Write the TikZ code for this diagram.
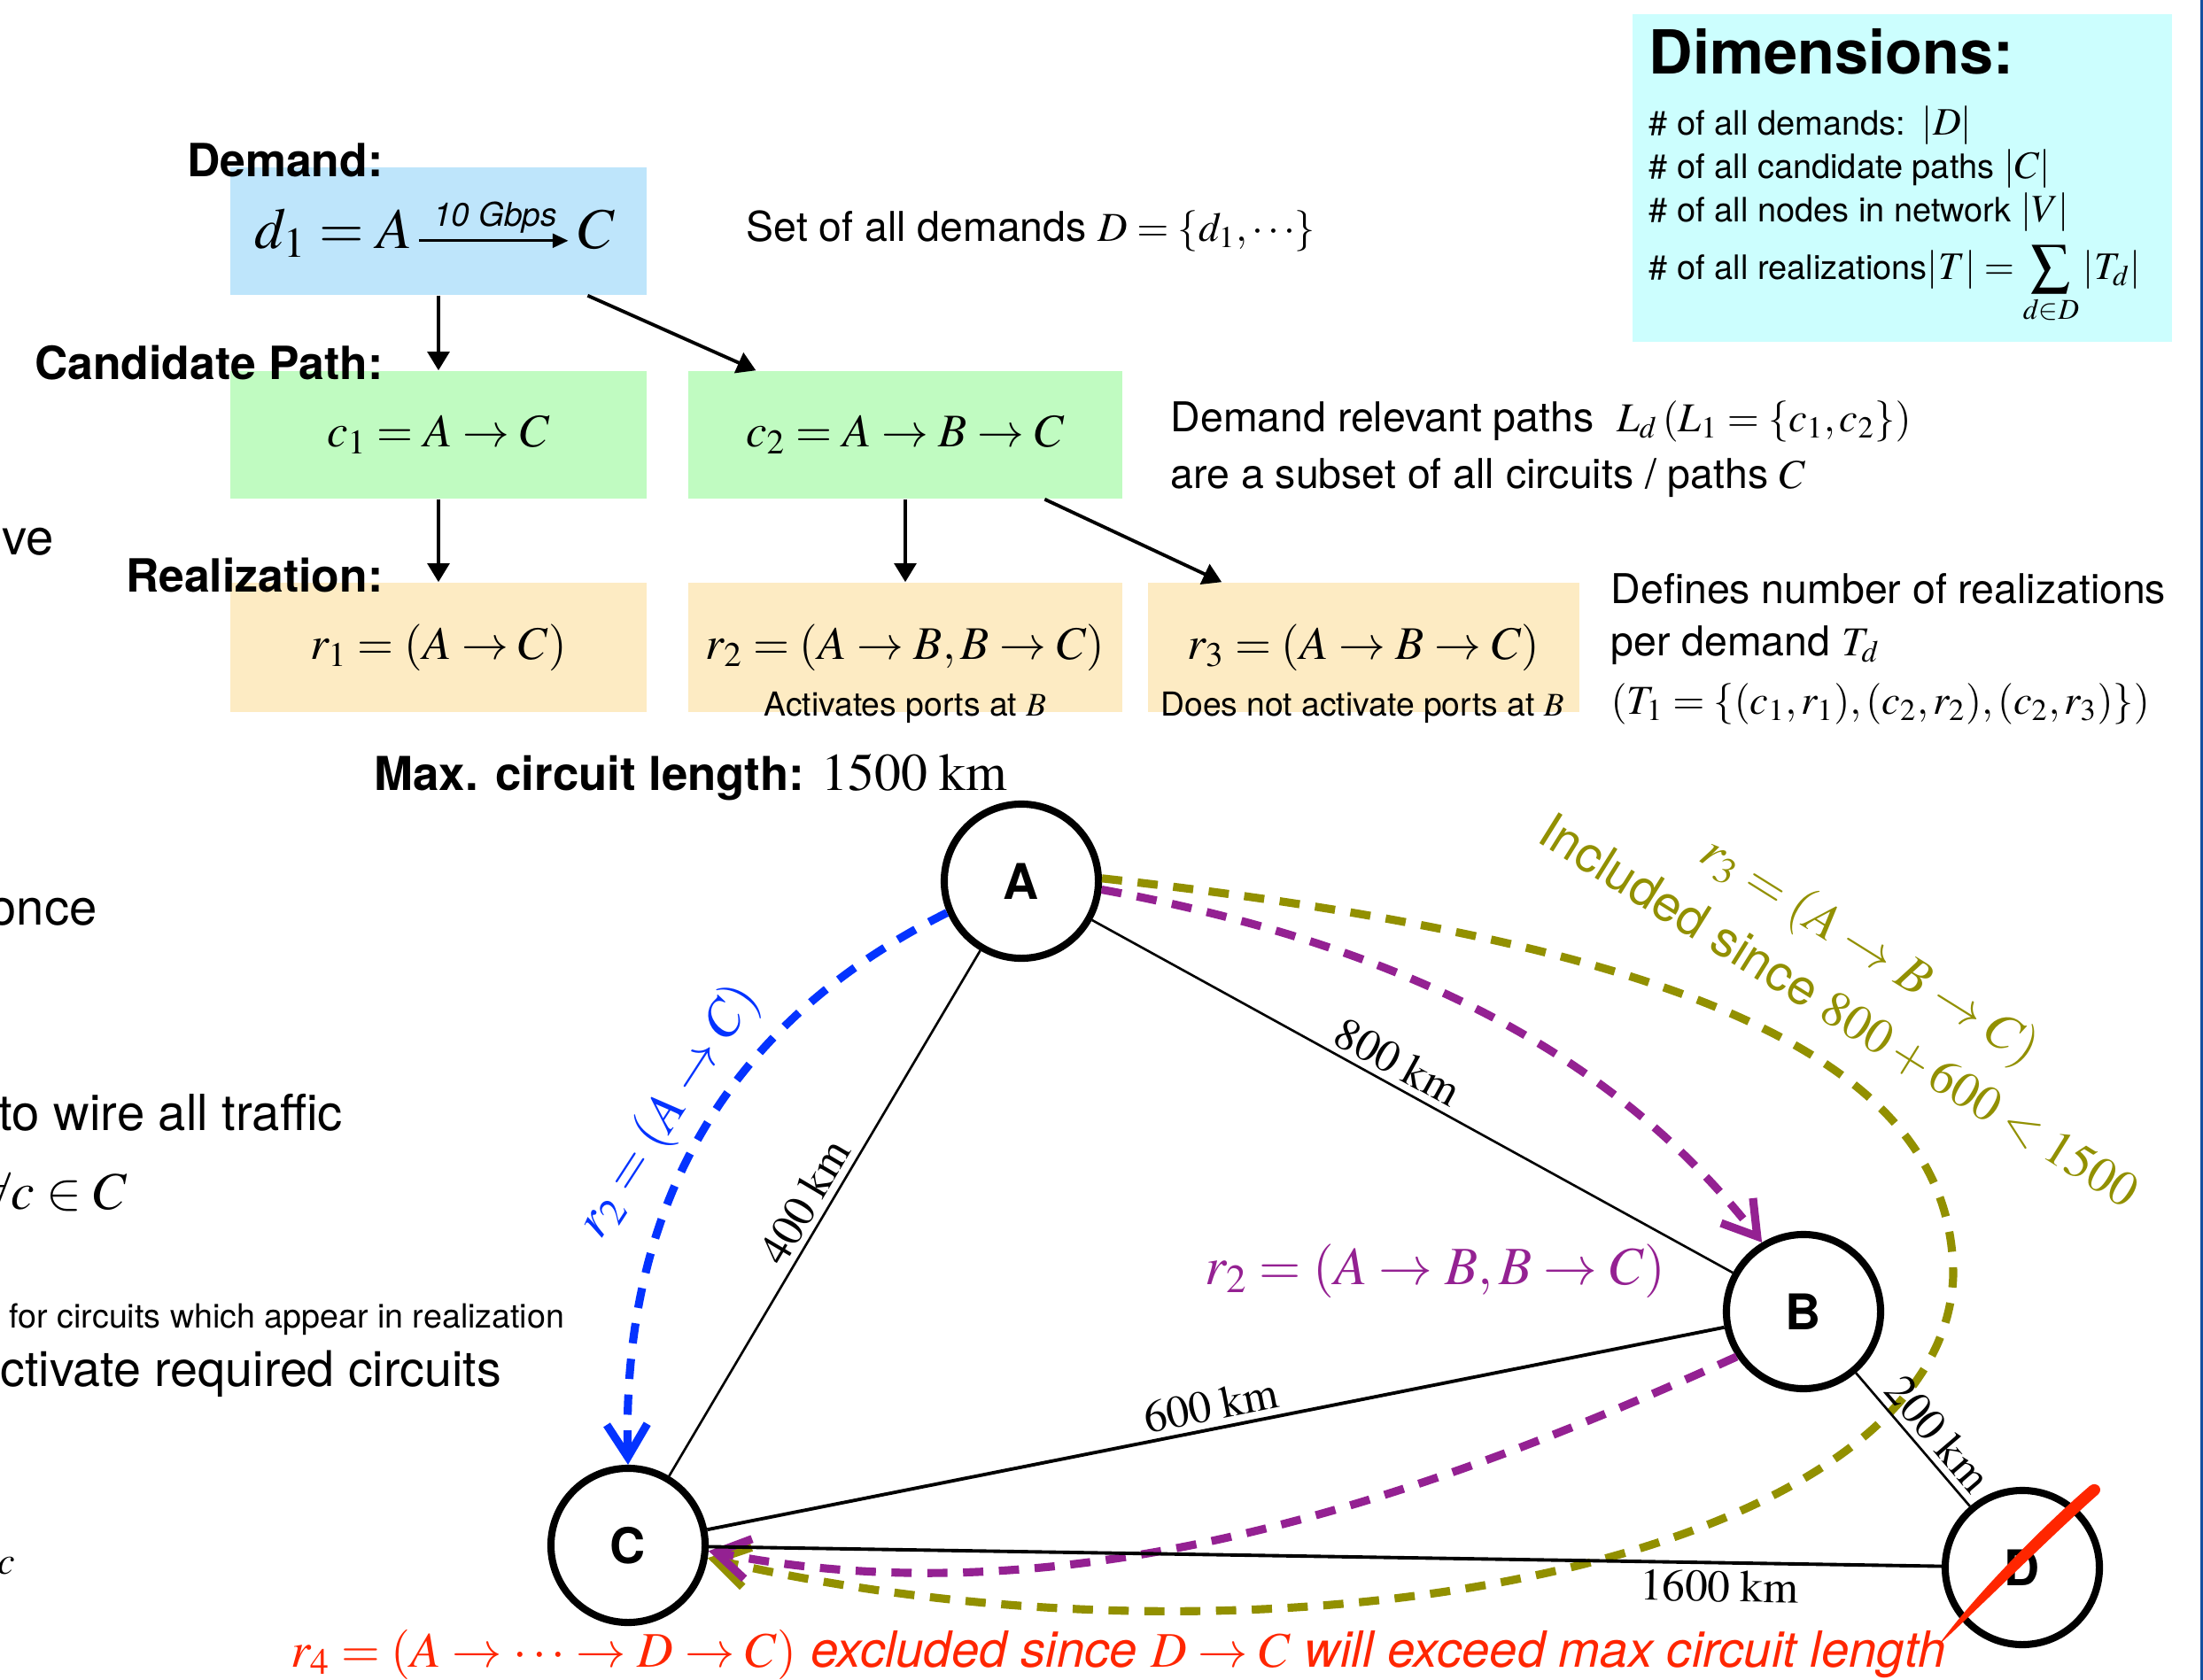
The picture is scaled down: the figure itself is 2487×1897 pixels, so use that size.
\documentclass[tikz,border=0pt]{standalone}
\usepackage{mathptmx}
\usepackage[no-math]{fontspec}
\setmainfont{TeX Gyre Heros}
\usetikzlibrary{arrows.meta,calc}
\newcommand\fsz[1]{\fontsize{#1}{#1}\selectfont}
\definecolor{demcol}{RGB}{190,229,251}
\definecolor{candcol}{RGB}{192,251,193}
\definecolor{realcol}{RGB}{253,235,195}
\definecolor{dimcol}{RGB}{204,254,254}
\definecolor{edgeline}{RGB}{20,80,160}
\definecolor{blueR}{RGB}{4,51,255}
\definecolor{plumR}{RGB}{148,33,146}
\definecolor{oliveR}{RGB}{146,144,0}
\definecolor{redR}{RGB}{255,38,0}
\tikzset{
  box/.style={rectangle, inner sep=0pt, font=\fsz{15}},
  hdr/.style={font=\fsz{14.7}\bfseries, inner sep=0pt, anchor=base east},
  body/.style={font=\fsz{13.2}, inner sep=0pt, anchor=base west},
  cut/.style={font=\fsz{16}, inner sep=0pt, anchor=base west},
  dimline/.style={font=\fsz{10.8}, inner sep=0pt, anchor=base west},
  vtx/.style={circle, draw, line width=2.3pt, minimum size=1.74cm, inner sep=0pt, fill=white, font=\fsz{15.8}\bfseries},
  link/.style={line width=0.75pt},
  linkb/.style={line width=1.1pt},
  flow/.style={-{Triangle[length=6pt,width=7pt]}, line width=1.1pt},
  route/.style={line width=2.6pt, dash pattern=on 6.5pt off 5pt, -{Straight Barb[length=10.5pt,width=13pt]}},
  km/.style={font=\fsz{14.5}, sloped, inner sep=2pt}
}
\begin{document}
\begin{tikzpicture}[x=0.01cm,y=-0.01cm]
\useasboundingbox (0,0) rectangle (2487,1897);
\clip (0,0) rectangle (2487,1897);
\fill[white] (0,0) rectangle (2487,1897);
\fill[edgeline] (2484,0) rectangle (2487,1897);

% ---------- dimensions box ----------
\node[box, fill=dimcol, minimum width=6.09cm, minimum height=3.70cm] (dims) at (2147.5,201) {};
\node[font=\fsz{19.5}\bfseries, inner sep=0pt, anchor=base west] (dimt) at (1861,84) {Dimensions:};
\node[dimline] (dim1) at (1861,153) {\# of all demands: {\fsz{12.5}$\,|D|$}};
\node[dimline] (dim2) at (1861,202) {\# of all candidate paths {\fsz{12.5}$|C|$}};
\node[dimline] (dim3) at (1861,251) {\# of all nodes in network {\fsz{12.5}$|V|$}};
\node[dimline] (dim4) at (1861,315) {\# of all realizations{\fsz{12.5}$|T| = \displaystyle\sum_{d\in D} |T_d|$}};

% ---------- boxes ----------
\node[box, fill=demcol, minimum width=4.70cm, minimum height=1.44cm] (dem) at (495,261) {};
\node[box, fill=candcol, minimum width=4.70cm, minimum height=1.44cm] (c1) at (495,491) {$c_1 = A \to C$};
\node[box, fill=candcol, minimum width=4.90cm, minimum height=1.44cm] (c2) at (1022,491) {$c_2 = A \to B \to C$};
\node[box, fill=realcol, minimum width=4.70cm, minimum height=1.46cm] (r1) at (495,731) {$r_1 = (A \to C)$};
\node[box, fill=realcol, minimum width=4.90cm, minimum height=1.46cm] (r2) at (1022,731) {$r_2 = (A \to B, B \to C)$};
\node[box, fill=realcol, minimum width=4.87cm, minimum height=1.46cm] (r3) at (1539.5,731) {$r_3 = (A \to B \to C)$};

% demand formula
\node[font=\fsz{18.5}, inner sep=0pt, anchor=base east] (dA) at (466,281) {$d_1 = A$};
\node[font=\fsz{18.5}, inner sep=0pt, anchor=base west] (dC) at (652,281) {$C$};
\draw[-{Triangle[length=5pt,width=4.5pt]}, line width=0.8pt, shorten <=2pt, shorten >=3pt]
  (dA.mid east) -- node[above, font=\fsz{10.5}\itshape, inner sep=2pt] (gbps) {10 Gbps} (dC.mid west);

% headers
\node[hdr] (hdem) at (433,200) {Demand:};
\node[hdr] (hcand) at (433,428) {Candidate Path:};
\node[hdr] (hreal) at (433,668) {Realization:};

% notes
\node[body] (setD) at (842,272) {Set of all demands $D = \{d_1, \cdots\}$};
\node[body] (rel1) at (1321,487) {Demand relevant paths\ \ $L_d\,(L_1 = \{c_1, c_2\})$};
\node[body] (rel2) at (1321,551) {are a subset of all circuits / paths $C$};
\node[body] (def1) at (1818,681) {Defines number of realizations};
\node[body] (def2) at (1818,740) {per demand $T_d$};
\node[body] (def3) at (1818,806) {$(T_1 = \{(c_1,r_1),(c_2,r_2),(c_2,r_3)\})$};
\node[font=\fsz{10.6}, inner sep=0pt, anchor=base] (act) at (1022,808) {Activates ports at $B$};
\node[font=\fsz{10.6}, inner sep=0pt, anchor=base] (nact) at (1538,808) {Does not activate ports at $B$};

% arrows
\draw[flow] (dem.south) -- (c1.north);
\draw[flow] ($(dem.south west)!0.857!(dem.south east)$) -- ($(c2.north west)!0.157!(c2.north east)$);
\draw[flow] (c1.south) -- (r1.north);
\draw[flow] (c2.south) -- (r2.north);
\draw[flow] ($(c2.south west)!0.82!(c2.south east)$) -- ($(r3.north west)!0.172!(r3.north east)$);

% max length
\node[inner sep=0pt, anchor=base west] (maxl) at (422,892) {\fsz{15}\bfseries Max. circuit length: \fsz{17}$1500\;\mathrm{km}$};

% left cut texts
\node[cut] (t1) at (2,626) {ve};
\node[cut] (t2) at (-13,1044) {once};
\node[cut] (t3) at (-2,1276) {to wire all traffic};
\node[font=\fsz{17}, inner sep=0pt, anchor=base west] (t4) at (-21,1365) {$\forall c \in C$};
\node[font=\fsz{10.7}, inner sep=0pt, anchor=base west] (t5) at (10,1499) {for circuits which appear in realization};
\node[font=\fsz{15.8}, inner sep=0pt, anchor=base west] (t6) at (0,1565) {ctivate required circuits};
\node[font=\fsz{12.5}, inner sep=0pt, anchor=base west] (t7) at (-3,1777) {$c$};

% ---------- network ----------
\node[vtx] (A) at (1153,995) {A};
\node[vtx] (B) at (2036,1481) {B};
\node[vtx] (C) at (709,1745) {C};
\node[vtx] (D) at (2283,1770) {D};

% dashed routes
\draw[route, blueR] (A.203) .. controls (880,1125) and (700,1300) .. (C.north);
\draw[route, plumR] (A.-6) .. controls (1600,1070) and (1830,1200) .. (B.121);
\draw[route, oliveR] (A.2) .. controls (1854,1060) and (2205,1180) .. (2205,1440)
  .. controls (2195,1760) and (1450,1910) .. (C.-9);
\draw[route, plumR] (B.214) .. controls (1590,1700) and (1200,1830) .. (C.-4);

% edges
\draw[link] (C) -- node[km, above, pos=0.5] (l400) {$400\;\mathrm{km}$} (A);
\draw[link] (A) -- node[km, above, pos=0.46] (l800) {$800\;\mathrm{km}$} (B);
\draw[linkb] (C) -- node[km, above, pos=0.5] (l600) {$600\;\mathrm{km}$} (B);
\draw[linkb] (C) -- node[km, below, pos=0.82] (l1600) {$1600\;\mathrm{km}$} (D);
\draw[link] (B) -- node[km, above, pos=0.57] (l200) {$200\;\mathrm{km}$} (D);

% route labels
\node[text=blueR, font=\fsz{17}, rotate=57, inner sep=0pt] (lb) at (755,1255) {$r_2 = (A \to C)$};
\node[text=plumR, font=\fsz{17.3}, inner sep=0pt, anchor=base] (lp) at (1620,1450) {$r_2 = (A \to B, B \to C)$};
\node[text=oliveR, font=\fsz{16.5}, rotate=-32, inner sep=0pt] (lo1) at (2110,1075) {$r_3 = (A \to B \to C)$};
\node[text=oliveR, font=\fsz{16}, rotate=-32, inner sep=0pt] (lo2) at (2076,1142) {Included since $800 + 600 < 1500$};

% excluded
\node[text=redR, font=\fsz{16}, inner sep=0pt, anchor=base west] (lr) at (328,1882)
  {$r_4 = (A \to \cdots \to D \to C)$ \itshape excluded since $D \to C$ will exceed max circuit length};
\fill[redR] (2188,1858) .. controls (2240,1810) and (2320,1730) .. (2369,1687)
  .. controls (2375,1680) and (2366,1672) .. (2359,1678)
  .. controls (2310,1720) and (2230,1800) .. cycle;
\end{tikzpicture}
\end{document}
